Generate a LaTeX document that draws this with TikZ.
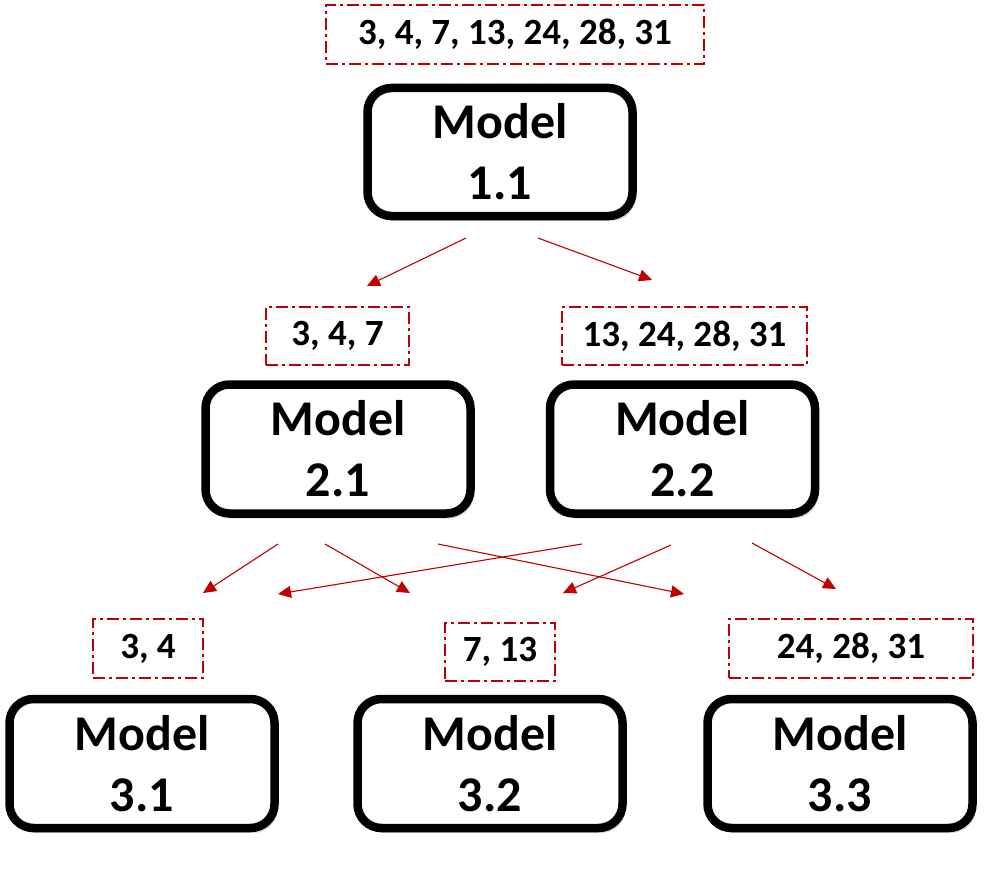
\documentclass[tikz,border=0pt]{standalone}
\usepackage{fontspec}
\setmainfont{Carlito}
\usetikzlibrary{arrows.meta,shadows}
\definecolor{dred}{HTML}{C00000}
\tikzset{
  model/.style={draw=black, line width=8.5pt, rounded corners=24pt, fill=white,
    minimum width=265pt, minimum height=129pt, inner sep=0pt, align=center,
    font=\bfseries\fontsize{50}{61}\selectfont,
    drop shadow={shadow xshift=3pt, shadow yshift=-5pt, opacity=0.15, fill=black}},
  setbox/.style={draw=dred, line width=1.6pt, dash pattern=on 12pt off 4pt on 3pt off 4pt,
    inner sep=0pt, font=\bfseries\fontsize{37}{42}\selectfont},
  conn/.style={draw=dred, line width=1.1pt, -{Triangle[length=13pt,width=12pt]}}
}
\begin{document}
\begin{tikzpicture}[x=1pt,y=-1pt]
\useasboundingbox (0,0) rectangle (992,872);
% label boxes
\node[setbox, minimum width=378pt, minimum height=59pt] (l1)  at (515,34.5) {3, 4, 7, 13, 24, 28, 31};
\node[setbox, minimum width=143pt, minimum height=58pt] (l21) at (337.5,336) {3, 4, 7};
\node[setbox, minimum width=245pt, minimum height=58pt] (l22) at (684.5,336) {13, 24, 28, 31};
\node[setbox, minimum width=110pt, minimum height=59pt] (l31) at (148,648.5) {3, 4};
\node[setbox, minimum width=110pt, minimum height=58pt] (l32) at (500,652) {7, 13};
\node[setbox, minimum width=244pt, minimum height=59pt] (l33) at (851,648.5) {24, 28, 31};
% models
\node[model, minimum height=128pt] (m11) at (500,152) {Model\\1.1};
\node[model] (m21) at (338,449) {Model\\2.1};
\node[model] (m22) at (682.5,449) {Model\\2.2};
\node[model] (m31) at (142,763.5) {Model\\3.1};
\node[model] (m32) at (490,763.5) {Model\\3.2};
\node[model] (m33) at (840,763.5) {Model\\3.3};
% arrow end points
\coordinate (a1s) at (466,238); \coordinate (a1e) at (367,286);
\coordinate (a2s) at (538,238); \coordinate (a2e) at (652,280);
\coordinate (b1s) at (278,544); \coordinate (b1e) at (203,593);
\coordinate (b2s) at (325,544); \coordinate (b2e) at (410,593);
\coordinate (b3s) at (438,544); \coordinate (b3e) at (684,594);
\coordinate (c1s) at (582,544); \coordinate (c1e) at (278,594);
\coordinate (c2s) at (671,545); \coordinate (c2e) at (563,593);
\coordinate (c3s) at (752,543); \coordinate (c3e) at (836,589);
\draw[conn] (a1s) -- (a1e);
\draw[conn] (a2s) -- (a2e);
\draw[conn] (b1s) -- (b1e);
\draw[conn] (b2s) -- (b2e);
\draw[conn] (b3s) -- (b3e);
\draw[conn] (c1s) -- (c1e);
\draw[conn] (c2s) -- (c2e);
\draw[conn] (c3s) -- (c3e);
\end{tikzpicture}
\end{document}
